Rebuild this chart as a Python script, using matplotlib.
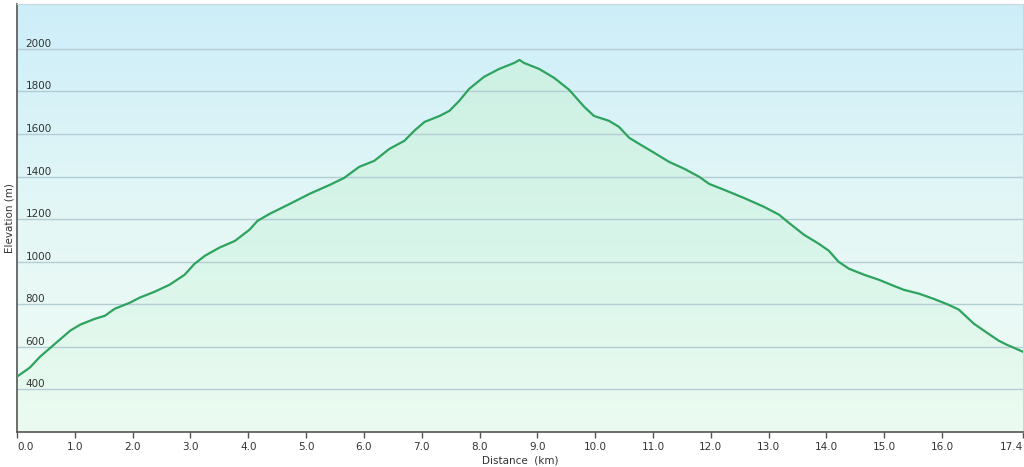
import numpy as np
import matplotlib.pyplot as plt
from matplotlib.colors import LinearSegmentedColormap
from matplotlib.patches import Polygon

# distance (km) and elevation (m)
dist = [0.0, 0.22, 0.4, 0.66, 0.92, 1.09, 1.35, 1.52, 1.69, 1.95, 2.12, 2.38,
        2.64, 2.9, 3.07, 3.25, 3.5, 3.77, 4.02, 4.16, 4.37, 4.72, 5.06, 5.41,
        5.66, 5.92, 6.18, 6.44, 6.7, 6.87, 7.05, 7.31, 7.48, 7.65, 7.82, 8.08,
        8.34, 8.6, 8.69, 8.77, 9.03, 9.29, 9.55, 9.81, 9.98, 10.24, 10.41,
        10.59, 10.76, 11.02, 11.28, 11.54, 11.8, 11.97, 12.23, 12.57, 12.92,
        13.18, 13.35, 13.61, 13.87, 14.04, 14.21, 14.39, 14.65, 14.91, 15.16,
        15.34, 15.6, 15.85, 16.11, 16.29, 16.55, 16.8, 16.98, 17.12, 17.4]
elev = [460, 502, 554, 615, 676, 704, 732, 746, 779, 807, 831, 859,
        892, 939, 990, 1028, 1066, 1098, 1150, 1192, 1225, 1272, 1319, 1361,
        1394, 1446, 1474, 1530, 1568, 1615, 1657, 1685, 1709, 1756, 1812, 1869,
        1906, 1934, 1948, 1934, 1906, 1864, 1808, 1728, 1685, 1662, 1634,
        1582, 1554, 1512, 1469, 1437, 1399, 1366, 1338, 1300, 1258,
        1221, 1183, 1127, 1084, 1052, 1000, 967, 939, 915, 887,
        868, 850, 826, 798, 775, 709, 662, 629, 610, 577]

xticks = [0, 1, 2, 3, 4, 5, 6, 7, 8, 9, 10, 11, 12, 13, 14, 15, 16, 17.4]
xlabels = ["0.0", "1.0", "2.0", "3.0", "4.0", "5.0", "6.0", "7.0", "8.0", "9.0",
           "10.0", "11.0", "12.0", "13.0", "14.0", "15.0", "16.0", "17.4"]
yticks = [400, 600, 800, 1000, 1200, 1400, 1600, 2000 - 200, 2000]

ymin, ymax = 200, 2210
xmin, xmax = 0, 17.4

fig = plt.figure(figsize=(10.24, 4.67), dpi=100)
ax = fig.add_axes([0.0166, 0.075, 0.9824, 0.916])
ax.set_xlim(xmin, xmax)
ax.set_ylim(ymin, ymax)

# background gradient: light blue at top to pale green at bottom
bg = LinearSegmentedColormap.from_list("bg", ["#f0fcf4", "#e4f7f6", "#cdeef9"])
grad = np.linspace(0, 1, 256).reshape(-1, 1)
ax.imshow(grad, cmap=bg, aspect="auto", origin="lower",
          extent=[xmin, xmax, ymin, ymax], zorder=0)

# fill under profile, green gradient
fl = LinearSegmentedColormap.from_list("fl", ["#ecfbf1", "#d8f5e9", "#cdf1e4"])
im = ax.imshow(grad, cmap=fl, aspect="auto", origin="lower",
               extent=[xmin, xmax, ymin, max(elev)], zorder=1)
poly = Polygon(list(zip(dist, elev)) + [(dist[-1], ymin), (dist[0], ymin)],
               closed=True, facecolor="none", edgecolor="none")
ax.add_patch(poly)
im.set_clip_path(poly)

for v in yticks:
    ax.axhline(v, color="#b4cdd4", lw=1, zorder=2)

ax.plot(dist, elev, color="#2ea35e", lw=1.6, zorder=3)

ax.set_xticks(xticks)
ax.set_xticklabels(xlabels, fontsize=7.5, color="#333333")
labels = ax.get_xticklabels()
labels[0].set_ha("left")
labels[-1].set_ha("right")
ax.tick_params(axis="x", direction="out", length=4, width=1, color="#555555", pad=3)

ax.set_yticks(yticks)
ax.set_yticklabels([str(v) for v in yticks], fontsize=7.5, color="#333333")
ax.tick_params(axis="y", length=0, pad=-6)
for lbl in ax.get_yticklabels():
    lbl.set_ha("left")
    lbl.set_va("bottom")

ax.set_xlabel("Distance  (km)", fontsize=7.5, color="#333333", labelpad=3)
ax.set_ylabel("Elevation (m)", fontsize=7.5, color="#333333", labelpad=2)

for s in ["top", "right"]:
    ax.spines[s].set_color("#c8d8de")
    ax.spines[s].set_linewidth(0.8)
for s in ["left", "bottom"]:
    ax.spines[s].set_color("#555555")
    ax.spines[s].set_linewidth(1.2)

fig.savefig("out.png", dpi=100)
